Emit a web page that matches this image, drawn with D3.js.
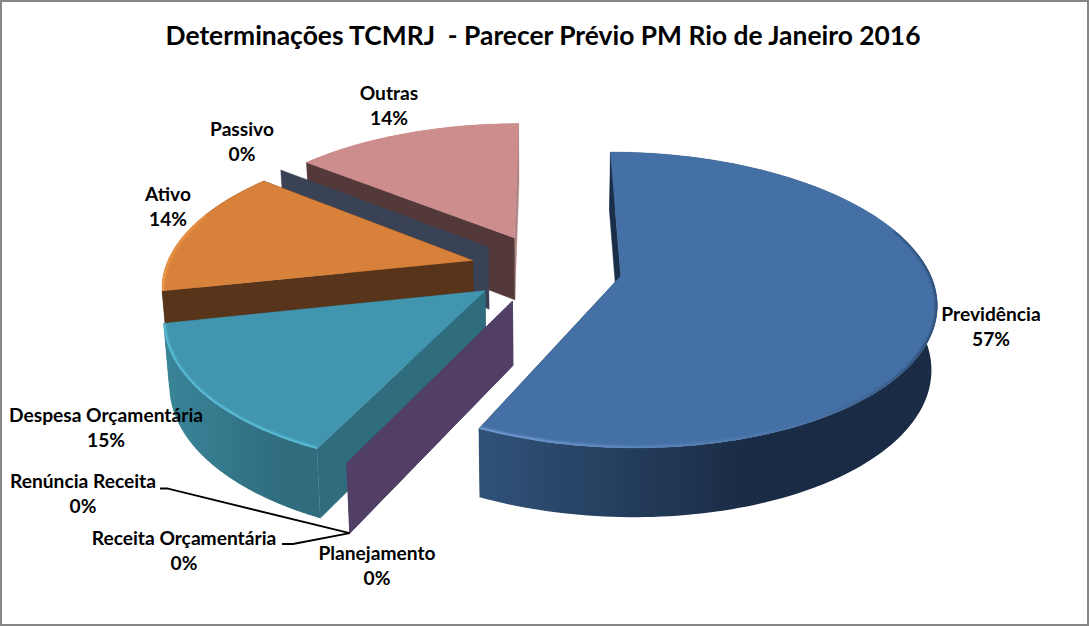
<!DOCTYPE html>
<html>
<head>
<meta charset="utf-8">
<script src="https://cdn.jsdelivr.net/npm/d3@7"></script>
<style>
html,body{margin:0;padding:0;background:#fff}
svg{display:block}
text{font-family:Lato,"Open Sans",sans-serif;font-weight:700;fill:#000;white-space:pre}
</style>
</head>
<body>
<svg id="c" width="1089" height="626"></svg>
<script>
// ---- data ----
const chartTitle = "Determinações TCMRJ  - Parecer Prévio PM Rio de Janeiro 2016";
const categories = ["Previdência","Planejamento","Receita Orçamentária","Renúncia Receita","Despesa Orçamentária","Ativo","Passivo","Outras"];
const values     = [57.0, 0, 0, 0, 14.6, 14.2, 0, 14.2];

// ---- styles ----
const faceColors = ["#4570a5","#523f66","#523f66","#523f66","#4195ae","#d8813a","#3a4255","#ce8d8d"];
const wallStart  = ["#1a2f47","#523f66","#523f66","#523f66","#2f6c7e","#57341a","#3a4255","#53393a"];
const wallEnd    = ["#1a2f47","#523f66","#523f66","#523f66","#2f6c7e","#57341a","#3a4255","#b08583"];
const sideStops  = [
  [["0","#305279"],["0.58","#1a2c45"],["1","#1a2c45"]],
  null,null,null,
  [["0","#3a8599"],["0.8","#2f6c7e"],["1","#2f6c7e"]],
  [["0","#57341a"],["1","#57341a"]],
  null,
  [["0","#b08583"],["1","#b08583"]]
];
const rimStops = [
  [["0","#7aa5dc"],["0.3","#5f8ac2"],["0.7","#4a74a8"],["1","#2c4a70"]],
  null,null,null,
  [["0","#5cc2de"],["1","#5ac0dc"]],
  [["0","#f29c4e"],["1","#d8813a"]],
  null,
  [["0","#ce8d8d"],["1","#ce8d8d"]]
];
// label anchors (centre x, first-line centre y)
const labelPos = [[991,315],[377,554],[184,539],[83,482],[106,416],[168,195],[242,130],[389,94]];
const leaderStart = {2:[[282,544],[293,544]], 3:[[160,488.5],[167,488.5]]};

// ---- projection (pie plane -> screen with perspective) ----
const X0=546, Y0=268.4, RX=307.5, RY=141.6, PERSP=0.16, EXPLODE=0.247;
function project(wx,wy,z){
  const s = 1/(1-PERSP*wy);
  return [
    X0 + RX*wx*s*(1-0.015*z),
    Y0 + RY*wy*s + z*(32+31*s)
  ];
}
const dir = a => [Math.sin(a), -Math.cos(a)];

const svg = d3.select("#c");
const defs = svg.append("defs");
defs.append("filter").attr("id","soft").append("feGaussianBlur").attr("stdDeviation",1);
const line = d3.line();
const poly = pts => line(pts)+"Z";

svg.append("rect").attr("width",1089).attr("height",626).attr("fill","#fff");

const pie = d3.pie().sort(null).value(d=>d.v)
  .startAngle(0).endAngle(2*Math.PI);
const data = categories.map((n,i)=>({n,v:values[i],i}));
const arcs = pie(data);

function hGrad(id,stops,x1,x2){
  const g = defs.append("linearGradient").attr("id",id)
    .attr("gradientUnits","userSpaceOnUse").attr("x1",x1).attr("x2",x2).attr("y1",0).attr("y2",0);
  stops.forEach(s=>g.append("stop").attr("offset",s[0]).attr("stop-color",s[1]));
}

// painter's order: back slices first (the reverse of data order)
d3.reverse(arcs).forEach(a=>{
  const i=a.data.i, a0=a.startAngle, a1=a.endAngle, mid=(a0+a1)/2;
  const [ex,ey]=dir(mid).map(d=>d*EXPLODE);
  const rimPt=(t)=>{const [u,v]=dir(t);return [ex+u,ey+v];};
  const g=svg.append("g").attr("class","slice");
  const wall=(ang,color)=>{
    const r=rimPt(ang);
    g.append("path").attr("d",poly([project(ex,ey,0),project(r[0],r[1],0),project(r[0],r[1],1),project(ex,ey,1)]))
      .attr("fill",color).attr("stroke",color).attr("stroke-width",0.4);
  };
  wall(a1,wallEnd[i]);
  if(a1-a0>0){
    const angs=d3.range(0,161).map(k=>a0+(a1-a0)*k/160);
    const topPts=angs.map(t=>{const r=rimPt(t);return project(r[0],r[1],0);});
    const botPts=angs.map(t=>{const r=rimPt(t);return project(r[0],r[1],1);});
    const ext=d3.extent(topPts,p=>p[0]);
    hGrad("side"+i,sideStops[i],ext[0], ext[1]);
    hGrad("rim"+i,rimStops[i],ext[0],ext[1]);
    g.append("path").attr("d",poly([...topPts,...botPts.slice().reverse()])).attr("fill",`url(#side${i})`);
    wall(a0,wallStart[i]);
    const faceD=poly([project(ex,ey,0),...topPts]);
    g.append("path").attr("d",faceD).attr("fill",faceColors[i])
      .attr("stroke",faceColors[i]).attr("stroke-width",0.4);
    // soft bevel along the part of the rim that faces the viewer, kept inside the face
    defs.append("clipPath").attr("id","clip"+i).append("path").attr("d",faceD);
    const front=angs.filter(t=>dir(t)[1]>-0.35);
    const rimLine=front.map(t=>{const r=rimPt(t);return project(r[0],r[1],0);});
    g.append("g").attr("clip-path",`url(#clip${i})`)
      .append("path").attr("d",line(rimLine)).attr("fill","none")
      .attr("stroke",`url(#rim${i})`).attr("stroke-width",4).attr("filter","url(#soft)");
  }
});

// leader lines to the zero slices
const planej = arcs[1];
const [pu,pv]=dir(planej.startAngle);
const tip = project(EXPLODE*pu+pu, EXPLODE*pv+pv, 1);
Object.entries(leaderStart).forEach(([k,pts])=>{
  svg.append("path").attr("d",line([...pts,tip])).attr("fill","none").attr("stroke","#000").attr("stroke-width",1.8);
});

// title
svg.append("text").attr("class","title").attr("x",543).attr("y",45).attr("text-anchor","middle")
  .attr("font-size",26.4).text(chartTitle);

// labels
const fmt = d3.format(".0f");
const FS=19.2;
data.forEach((d,i)=>{
  const [x,y]=labelPos[i];
  const t=svg.append("text").attr("text-anchor","middle").attr("font-size",FS);
  t.append("tspan").attr("x",x).attr("y",y+6).text(d.n);
  t.append("tspan").attr("x",x).attr("y",y+31).text(fmt(d.v)+"%");
});

// frame
svg.append("rect").attr("x",1).attr("y",1).attr("width",1087).attr("height",624)
  .attr("fill","none").attr("stroke","#868686").attr("stroke-width",2);
</script>
</body>
</html>
